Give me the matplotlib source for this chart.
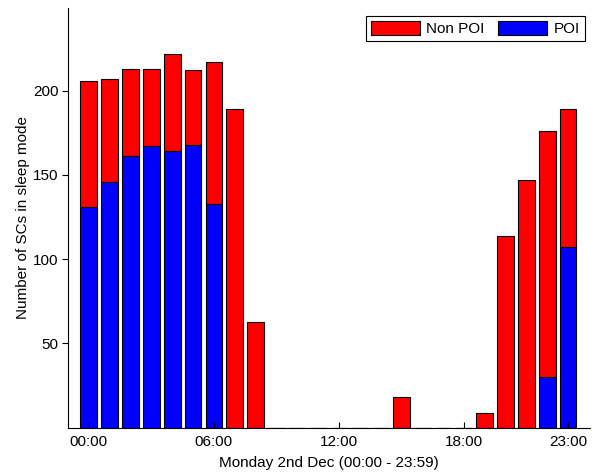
import numpy as np
import matplotlib
matplotlib.use('Agg')
from matplotlib import pyplot as plt

plt.rcParams['font.family'] = ['Liberation Sans', 'DejaVu Sans']
plt.rcParams['font.size'] = 11

hours = list(range(24))
total = [206, 207, 213, 213, 222, 212, 217, 189, 63, 0, 0, 0, 0, 0, 0, 18,
         0, 0, 0, 9, 114, 147, 176, 189]
poi = [131, 146, 161, 167, 164, 168, 133, 0, 0, 0, 0, 0, 0, 0, 0, 0,
       0, 0, 0, 0, 0, 0, 30, 107]
non_poi = [t - p for t, p in zip(total, poi)]
tick_pos = [0, 6, 12, 18, 23]
tick_labels = ['00:00', '06:00', '12:00', '18:00', '23:00']

fig = plt.figure(figsize=(6.01, 4.72), dpi=100)
ax = fig.add_axes([0.1131, 0.0939, 0.8686, 0.889])

b_non = ax.bar(hours, non_poi, width=0.8, bottom=poi, color='#ff0000',
               edgecolor='black', linewidth=0.8, label='Non POI')
b_poi = ax.bar(hours, poi, width=0.8, color='#0000ff',
               edgecolor='black', linewidth=0.8, label='POI')

ax.set_xlim(-1, 24.05)
ax.set_ylim(0, 249)
ax.set_xticks(tick_pos)
ax.set_xticklabels(tick_labels)
ax.set_yticks([50, 100, 150, 200])
ax.tick_params(axis='x', direction='in', length=4, pad=5)
ax.tick_params(axis='y', direction='out', length=4, pad=3)
ax.spines['top'].set_visible(False)
ax.spines['right'].set_visible(False)

ax.set_xlabel('Monday 2nd Dec (00:00 - 23:59)', labelpad=5)
ax.set_ylabel('Number of SCs in sleep mode', labelpad=2)

leg = ax.legend(handles=[b_non, b_poi], loc='upper right', ncol=2,
                bbox_to_anchor=(1.005, 1.0), fancybox=False, framealpha=1,
                edgecolor='black', handlelength=3.2, handleheight=1.0,
                columnspacing=0.9, handletextpad=0.4, borderpad=0.35)
leg.get_frame().set_linewidth(0.8)

fig.savefig('out.png', dpi=100)
